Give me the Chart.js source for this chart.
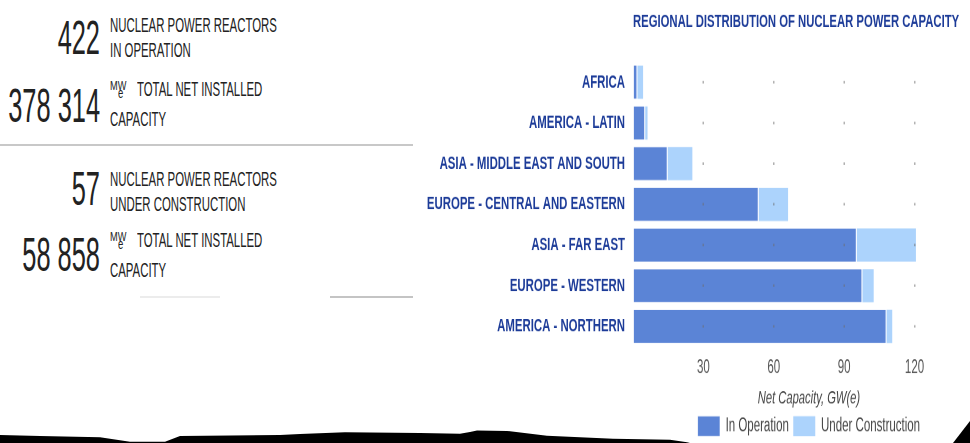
<!DOCTYPE html>
<html>
<head>
<meta charset="utf-8">
<script src="https://cdn.jsdelivr.net/npm/chart.js@4.4.1/dist/chart.umd.min.js"></script>
<style>
  html, body { margin: 0; padding: 0; width: 970px; height: 443px; overflow: hidden; background: #fff; }
  body { position: relative; font-family: 'Liberation Sans', Arial, sans-serif; color: #222; }
  .t { position: absolute; white-space: nowrap; line-height: 1; transform-origin: 0 0; }
  .num { font-size: 25.4px; left: 0; width: 100px; text-align: right; transform: scaleY(1.92); }
  .lbl { font-size: 11.4px; left: 110px; transform: scaleY(1.84); }
  .mw { font-size: 9.2px; left: 110px; transform: scaleY(1.45); }
  .sub { font-size: 9.5px; left: 118px; transform: scaleY(1.45); }
  .rule { position: absolute; height: 2px; }
  #chartBox { position: absolute; left: 405px; top: 0; transform-origin: 0 0; transform: scaleY(1.64); }
  #edge { position: absolute; left: 0; top: 0; }
</style>
</head>
<body>

<!-- summary figures on the left -->
<div class="t num" style="top:13.7px">422</div>
<div class="t lbl" style="top:15.2px">NUCLEAR POWER REACTORS</div>
<div class="t lbl" style="top:40.2px">IN OPERATION</div>

<div class="t num" style="top:82px">378 314</div>
<div class="t mw" style="top:79.8px">MW</div>
<div class="t sub" style="top:86px">e</div>
<div class="t lbl" style="top:78.9px;left:137px">TOTAL NET INSTALLED</div>
<div class="t lbl" style="top:108.9px">CAPACITY</div>

<div class="rule" style="top:144px;left:0;width:413px;background:#c8c8c8"></div>

<div class="t num" style="top:165.4px">57</div>
<div class="t lbl" style="top:169.2px">NUCLEAR POWER REACTORS</div>
<div class="t lbl" style="top:194.2px">UNDER CONSTRUCTION</div>

<div class="t num" style="top:230.7px">58 858</div>
<div class="t mw" style="top:231.1px">MW</div>
<div class="t sub" style="top:237.3px">e</div>
<div class="t lbl" style="top:230.2px;left:137px">TOTAL NET INSTALLED</div>
<div class="t lbl" style="top:260.2px">CAPACITY</div>

<div class="rule" style="top:296px;left:140px;width:80px;background:#ececec"></div>
<div class="rule" style="top:296px;left:330px;width:83px;background:#c4c4c4"></div>

<div id="chartBox"><canvas id="capChart" width="586" height="276"></canvas></div>

<!-- torn paper edge -->
<svg id="edge" width="970" height="443">
  <polygon fill="#000" points="0,435 40,436 100,437.3 130,441.7 165,441.7 180,436 280,435 300,434 345,432.3 420,433 460,433.7 470,432 477,430.5 507,431 547,435.7 613,438.7 670,439.7 687,442.3 690,443 0,443"/>
  <polygon fill="#000" points="953,443 970,421 970,443"/>
</svg>

<script>
// Regional distribution of nuclear power capacity, GW(e)
const regions = [
  "AFRICA",
  "AMERICA - LATIN",
  "ASIA - MIDDLE EAST AND SOUTH",
  "EUROPE - CENTRAL AND EASTERN",
  "ASIA - FAR EAST",
  "EUROPE - WESTERN",
  "AMERICA - NORTHERN"
];
const inOperation = [1.9, 5.2, 14.8, 53.6, 95.4, 97.8, 108.1];
const underConstruction = [2.4, 1.0, 10.5, 12.5, 25.2, 4.8, 2.4];
const xTickLabels = [30, 60, 90, 120];

const fontFamily = "'Liberation Sans', Arial, sans-serif";
const labelBlue = "#1c3b98";

const ctx = document.getElementById("capChart");
new Chart(ctx, {
  type: "bar",
  data: {
    labels: regions,
    datasets: [
      {
        label: "In Operation",
        data: inOperation,
        backgroundColor: "#5b84d6",
        borderColor: "rgba(255,255,255,0.8)",
        borderWidth: { top: 0, right: 1, bottom: 0, left: 0 },
        barPercentage: 0.816,
        categoryPercentage: 1
      },
      {
        label: "Under Construction",
        data: underConstruction,
        backgroundColor: "#acd3fc",
        borderWidth: 0,
        barPercentage: 0.816,
        categoryPercentage: 1
      }
    ]
  },
  options: {
    indexAxis: "y",
    responsive: false,
    animation: false,
    devicePixelRatio: 2,
    layout: { padding: 0 },
    scales: {
      x: {
        stacked: true,
        min: 0,
        max: 150,
        ticks: {
          stepSize: 30,
          padding: 6.1,
          color: "#555",
          font: { family: fontFamily, size: 11.5 },
          callback: v => xTickLabels.includes(v) ? String(v) : ""
        },
        grid: {
          color: c => xTickLabels.includes(c.tick && c.tick.value) ? "rgba(110,110,110,0.55)" : "transparent",
          lineWidth: 1.5,
          drawTicks: false,
          z: 1
        },
        border: { display: false, dash: [1.5, 23.3], dashOffset: 13.15 },
        title: {
          display: true,
          text: "Net Capacity, GW(e)",
          color: "#444",
          font: { family: fontFamily, size: 11.2, style: "italic" },
          padding: { top: 2, bottom: 0 }
        },
        afterFit: s => { s.height = 38; }
      },
      y: {
        stacked: true,
        grid: { display: false, drawTicks: false },
        border: { display: false },
        ticks: {
          padding: 8,
          color: labelBlue,
          font: { family: fontFamily, size: 11.4, weight: "bold" }
        },
        afterFit: s => { s.width = 228; }
      }
    },
    plugins: {
      title: {
        display: true,
        text: "REGIONAL DISTRIBUTION OF NUCLEAR POWER CAPACITY",
        align: "start",
        fullSize: false,
        color: labelBlue,
        font: { family: fontFamily, size: 11.3, weight: "bold" },
        padding: { top: 6.8, bottom: 17.4 }
      },
      legend: {
        position: "bottom",
        fullSize: false,
        labels: {
          boxWidth: 22,
          boxHeight: 12.2,
          padding: 4.4,
          color: "#444",
          font: { family: fontFamily, size: 11.5 }
        }
      },
      tooltip: { enabled: false }
    }
  }
});
</script>
</body>
</html>
